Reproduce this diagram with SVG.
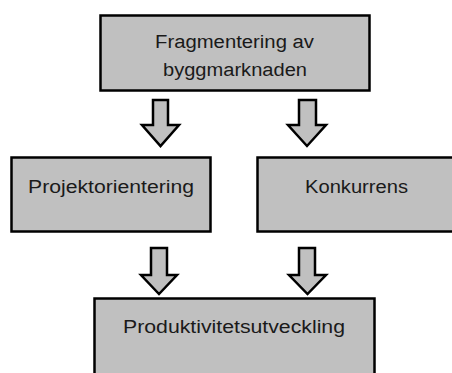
<svg xmlns="http://www.w3.org/2000/svg" width="452" height="373" viewBox="0 0 452 373">
<style>
.box{fill:#c0c0c0;stroke:#000;stroke-width:2.5}
.arr{fill:#c0c0c0;stroke:#000;stroke-width:2.5;stroke-linejoin:miter}
.t{font-family:"Liberation Sans",Arial,sans-serif;font-size:18px;fill:#1a1a1a;text-anchor:start}
</style>
<rect width="452" height="373" fill="#fff"/>
<g id="node-fragmentering">
<rect class="box" x="100.5" y="15.5" width="269" height="75"/>
<text class="t" x="155" y="48" textLength="159" lengthAdjust="spacingAndGlyphs">Fragmentering av</text>
<text class="t" x="163" y="76" textLength="144" lengthAdjust="spacingAndGlyphs">byggmarknaden</text>
</g>
<g id="node-projektorientering">
<rect class="box" x="11.5" y="157.5" width="199" height="74"/>
<text class="t" x="28" y="193" textLength="166" lengthAdjust="spacingAndGlyphs">Projektorientering</text>
</g>
<g id="node-konkurrens">
<rect class="box" x="257.5" y="157.5" width="200" height="74"/>
<text class="t" x="305" y="193" textLength="103" lengthAdjust="spacingAndGlyphs">Konkurrens</text>
</g>
<g id="node-produktivitetsutveckling">
<rect class="box" x="94.5" y="298.5" width="280" height="90"/>
<text class="t" x="123" y="333" textLength="222" lengthAdjust="spacingAndGlyphs">Produktivitetsutveckling</text>
</g>
<g id="connectors">
<path class="arr" d="M153,100 H168 V125 H179 L160.5,146 L142,125 H153 Z"/>
<path class="arr" d="M299,100 H316 V125 H326 L307,146 L288,125 H299 Z"/>
<path class="arr" d="M151,248 H167 V275 H177 L159,294 L141,275 H151 Z"/>
<path class="arr" d="M299,248 H315 V275 H326 L307.5,294 L289,275 H299 Z"/>
</g>
</svg>
